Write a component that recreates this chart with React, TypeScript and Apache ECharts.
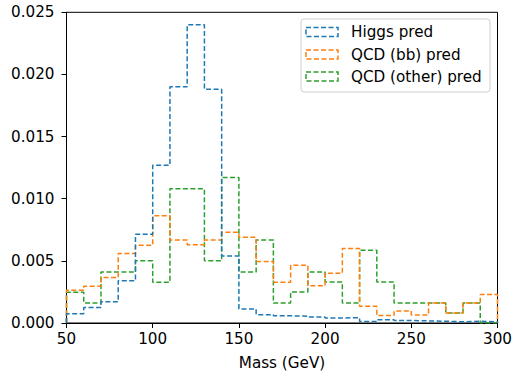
import React, { useEffect, useRef } from "react";
import * as echarts from "echarts";

const binEdges = [50, 60, 70, 80, 90, 100, 110, 120, 130, 140, 150, 160, 170, 180, 190, 200, 210, 220, 230, 240, 250, 260, 270, 280, 290, 300];

const higgs = [0.00075, 0.00124, 0.0017, 0.0034, 0.00715, 0.0127, 0.019, 0.024, 0.0188, 0.0054, 0.00113, 0.00067, 0.00058, 0.00054, 0.00048, 0.0004, 0.00043, 0.00013, 0.00027, 0.0002, 0.00017, 0.00014, 0.0001, 0.00014, 0.0001];
const qcdBB = [0.00263, 0.00296, 0.00366, 0.0056, 0.00626, 0.00863, 0.00667, 0.0063, 0.00667, 0.0073, 0.0069, 0.00495, 0.00328, 0.00465, 0.003, 0.004, 0.006, 0.00134, 0.0006, 0.00097, 0.00065, 0.0016, 0.0008, 0.0016, 0.0023];
const qcdOther = [0.00247, 0.0016, 0.0041, 0.0041, 0.005, 0.00328, 0.0108, 0.0108, 0.005, 0.0117, 0.0041, 0.00667, 0.0016, 0.0025, 0.0041, 0.0033, 0.0016, 0.00586, 0.0033, 0.0016, 0.0016, 0.0016, 0.0008, 0.0016, 0];

const seriesNames = ["Higgs pred", "QCD (bb) pred", "QCD (other) pred"];
const colors = ["#1f77b4", "#ff7f0e", "#2ca02c"];

function stepData(vals: number[]) {
  const pts: [number, number][] = [[binEdges[0], 0]];
  vals.forEach((v, i) => pts.push([binEdges[i], v]));
  pts.push([binEdges[binEdges.length - 1], vals[vals.length - 1]]);
  pts.push([binEdges[binEdges.length - 1], 0]);
  return pts;
}

export default function App() {
  const ref = useRef<HTMLDivElement>(null);
  useEffect(() => {
    const chart = echarts.init(ref.current!, null, { renderer: "svg" });
    const font = "DejaVu Sans";
    const fs = 15.2;
    const allData = [higgs, qcdBB, qcdOther];
    const legendX = 301;
    const legendY = 19;
    const legendChildren: any[] = [
      {
        type: "rect",
        shape: { x: legendX, y: legendY, width: 189, height: 73, r: 3 },
        style: { fill: "rgba(255,255,255,0.8)", stroke: "#d0d0d0", lineWidth: 1 },
      },
    ];
    const rowYs = [32, 54.5, 76.5];
    seriesNames.forEach((n, i) => {
      legendChildren.push({
        type: "rect",
        shape: { x: 306, y: rowYs[i] - 4.5, width: 32, height: 9 },
        style: { fill: "none", stroke: colors[i], lineWidth: 1.5, lineDash: [5, 2.5] },
      });
      legendChildren.push({
        type: "text",
        x: 351,
        y: rowYs[i],
        style: { text: n, fontFamily: font, fontSize: fs, fill: "#000", verticalAlign: "middle", align: "left" },
      });
    });
    chart.setOption({
      animation: false,
      backgroundColor: "#fff",
      grid: {
        left: 66.5,
        right: 16.5,
        top: 12.3,
        bottom: 48,
        show: true,
        borderColor: "#000",
        borderWidth: 1,
        backgroundColor: "transparent",
        outerBoundsMode: "none",
        containLabel: false,
      },
      xAxis: {
        type: "value",
        min: 50,
        max: 300,
        interval: 50,
        name: "Mass (GeV)",
        nameLocation: "middle",
        nameGap: 32,
        nameTextStyle: { fontFamily: font, fontSize: fs, color: "#000" },
        axisLine: { show: true, onZero: false, lineStyle: { color: "#000", width: 1 } },
        axisTick: { show: true, length: 5, lineStyle: { color: "#000" } },
        axisLabel: { fontFamily: font, fontSize: fs, color: "#000", margin: 8 },
        splitLine: { show: false },
      },
      yAxis: {
        type: "value",
        min: 0,
        max: 0.025,
        interval: 0.005,
        axisLine: { show: true, lineStyle: { color: "#000", width: 1 } },
        axisTick: { show: true, length: 5, lineStyle: { color: "#000" } },
        axisLabel: {
          fontFamily: font,
          fontSize: fs,
          color: "#000",
          margin: 12,
          formatter: (v: number) => v.toFixed(3),
        },
        splitLine: { show: false },
      },
      series: allData.map((d, i) => ({
        type: "line",
        name: seriesNames[i],
        step: "end",
        data: stepData(d),
        symbol: "none",
        clip: true,
        lineStyle: { color: colors[i], width: 1.5, type: [5, 2.5] },
        z: 3 - i,
      })),
      graphic: [{ type: "group", children: legendChildren, z: 100 }],
    });
    return () => chart.dispose();
  }, []);
  return <div ref={ref} style={{ width: 514, height: 371, position: "absolute", left: 0, top: 0 }} />;
}
